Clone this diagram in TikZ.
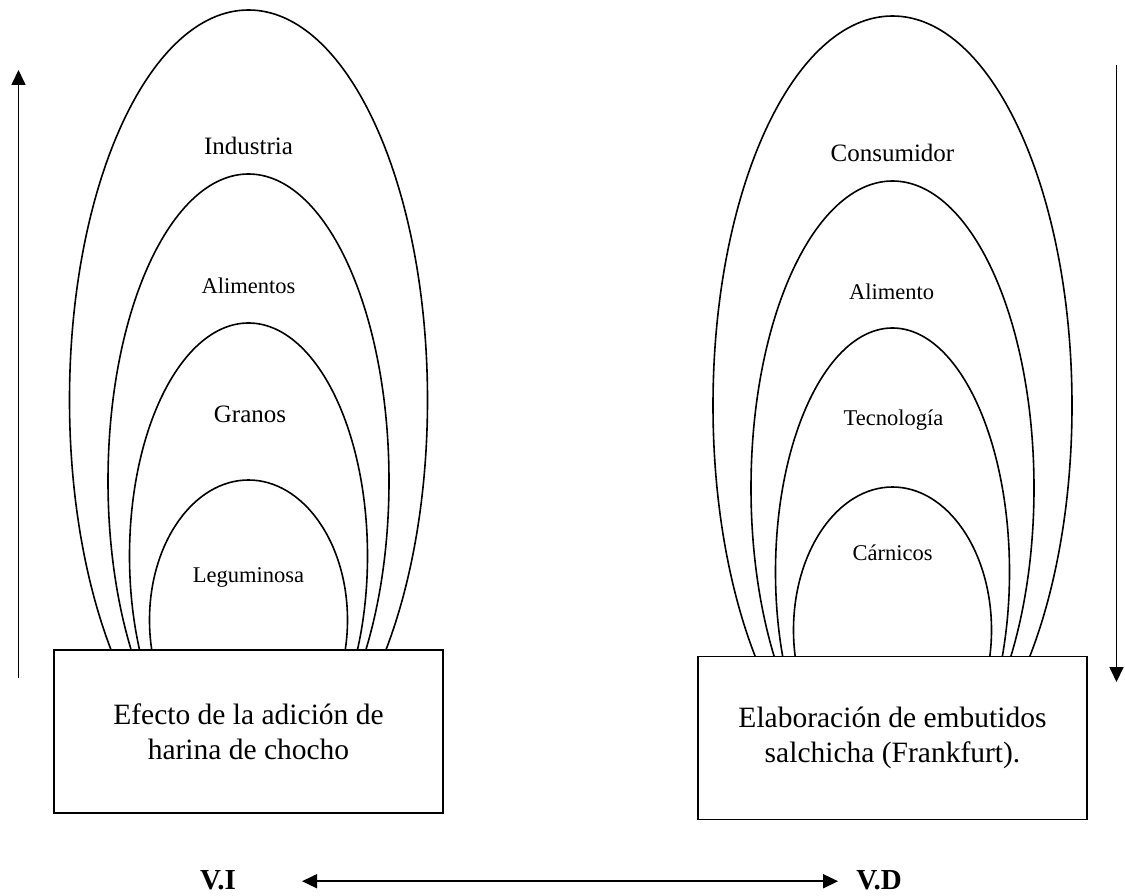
\documentclass[tikz,border=0pt]{standalone}
\usepackage{fontspec}
\setmainfont{Liberation Serif}
\usetikzlibrary{arrows.meta}
\begin{document}
\begin{tikzpicture}[x=1pt,y=-1pt,
  arch/.style={line width=1.6pt},
  basebox/.style={draw,line width=1.9pt,rectangle,inner sep=0pt,
    minimum width=389pt,minimum height=163pt,align=center,
    font=\fontsize{29.5}{35}\selectfont},
  biglabel/.style={anchor=base,inner sep=0pt,font=\fontsize{25}{30}\selectfont},
  smalllabel/.style={anchor=base,inner sep=0pt,font=\fontsize{22.5}{27}\selectfont},
  varlabel/.style={anchor=base,inner sep=0pt,font=\fontsize{29}{35}\selectfont\bfseries},
  axis/.style={line width=1.7pt,-{Triangle[length=15pt,width=14pt]}},
  bothaxis/.style={line width=1.7pt,{Triangle[length=15pt,width=14pt]}-{Triangle[length=15pt,width=14pt]}}
]
\useasboundingbox (0,0) rectangle (1125,896);

% left group: nested arches standing on the box
\begin{scope}
  \clip (0,0) rectangle (1125,650);
  \draw[arch] (248.5,400) ellipse [x radius=179,  y radius=390];
  \draw[arch] (248.5,481) ellipse [x radius=140.5,y radius=307];
  \draw[arch] (248.5,556) ellipse [x radius=119,  y radius=233];
  \draw[arch] (248.5,620) ellipse [x radius=99,   y radius=140];
\end{scope}
\node[basebox] (efecto) at (248.5,731.5) {Efecto de la adición de\\harina de chocho};
\node[biglabel]   (industria)  at (248.5,155) {Industria};
\node[smalllabel] (alimentos)  at (248.5,294) {Alimentos};
\node[biglabel]   (granos)     at (250,422)   {Granos};
\node[smalllabel] (leguminosa) at (248.5,582) {Leguminosa};

% right group
\begin{scope}
  \clip (0,0) rectangle (1125,656);
  \draw[arch] (892.5,405.5) ellipse [x radius=179.5,y radius=389.5];
  \draw[arch] (892.5,488)   ellipse [x radius=141.5,y radius=307];
  \draw[arch] (892.5,572)   ellipse [x radius=117,  y radius=244];
  \draw[arch] (892.5,630)   ellipse [x radius=99,   y radius=143];
\end{scope}
\node[basebox] (elaboracion) at (892.5,738) {Elaboración de embutidos\\salchicha (Frankfurt).};
\node[biglabel]   (consumidor) at (892.5,162) {Consumidor};
\node[smalllabel] (alimento)   at (891.5,299) {Alimento};
\node[smalllabel] (tecnologia) at (893.5,425) {Tecnología};
\node[smalllabel] (carnicos)   at (892.5,560) {Cárnicos};

% vertical axes
\coordinate (upfrom) at (18.5,678);
\coordinate (upto)   at (18.5,70);
\draw[axis] (upfrom) -- (upto);
\coordinate (downfrom) at (1116.5,65);
\coordinate (downto)   at (1116.5,682);
\draw[axis] (downfrom) -- (downto);

% independent / dependent variable
\node[varlabel] (vi) at (218,889) {V.I};
\node[varlabel] (vd) at (879,889) {V.D};
\draw[bothaxis] ([xshift=66pt,yshift=-1.5pt]vi.east) -- ([xshift=-18pt,yshift=-1.5pt]vd.west);
\end{tikzpicture}
\end{document}
